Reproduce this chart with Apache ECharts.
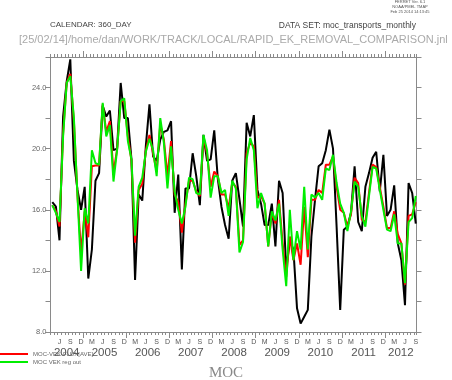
<!DOCTYPE html>
<html><head><meta charset="utf-8">
<script src="https://cdn.jsdelivr.net/npm/echarts@6/dist/echarts.min.js"></script>
<style>html,body{margin:0;padding:0;background:#fff}#c{width:452px;height:380px}</style>
</head><body><div id="c"></div>
<script>
// Monthly values, mid-month, April 2004 .. September 2012 (102 months)
const mocTotal = [16.5,16.2,14.0,22.1,24.4,25.85,19.2,17.3,16.0,17.5,11.5,13.4,17.9,18.4,22.8,22.1,22.5,19.9,20.0,24.3,22.0,22.0,19.3,11.4,17.0,16.6,20.2,22.9,19.5,19.2,20.6,21.1,21.2,21.8,15.8,18.3,12.1,17.4,17.4,19.7,18.2,16.3,20.9,19.2,19.3,21.2,18.0,16.2,15.0,14.1,17.9,18.4,16.7,14.9,21.7,20.8,22.2,17.3,16.4,15.0,15.0,16.4,13.6,17.9,17.1,12.1,14.0,13.4,9.55,8.55,9.0,9.45,14.25,16.65,18.85,19.05,19.9,21.25,20.0,14.9,9.45,14.7,14.9,15.8,18.85,15.2,14.6,17.5,18.4,19.4,19.8,17.2,19.6,15.6,16.0,17.6,13.8,12.7,9.75,17.75,17.1,15.1];
const mocVekAve = [16.3,15.9,14.9,21.0,24.3,24.9,21.8,16.9,13.2,15.9,14.2,18.85,18.9,18.9,22.9,21.1,21.8,18.4,19.95,23.1,23.1,20.8,19.2,13.85,17.3,17.7,19.9,20.9,19.7,18.5,21.6,20.6,18.2,20.5,17.0,16.5,14.5,16.4,17.9,17.9,17.2,16.9,20.7,19.7,17.5,18.5,18.2,17.0,17.0,16.1,17.8,17.5,13.7,14.0,19.7,20.4,20.15,16.8,16.9,16.4,13.6,15.8,15.1,16.65,13.8,11.6,14.25,12.7,13.8,12.4,16.2,12.9,16.65,16.65,17.3,17.1,18.95,18.95,19.5,17.5,16.0,15.8,14.9,15.7,18.1,17.75,15.35,15.2,17.1,18.95,18.8,17.5,16.2,14.8,14.8,15.9,14.4,13.8,11.1,15.6,15.7,16.5];
const mocVekRegOut = [16.3,15.8,15.2,20.8,24.3,24.75,22.0,16.9,12.0,16.1,15.1,19.9,19.05,18.95,23.0,20.8,21.55,17.85,19.9,23.1,23.3,20.5,19.3,14.3,17.5,18.1,19.8,20.65,19.9,18.2,22.0,20.4,17.4,20.15,17.2,16.0,15.1,16.2,18.1,18.0,17.1,17.0,20.9,19.9,16.8,18.2,18.2,17.1,17.3,15.6,17.9,17.4,13.2,13.9,19.3,20.7,19.9,16.1,17.1,16.4,13.6,15.9,15.3,16.4,13.4,11.0,16.0,12.7,14.6,13.4,17.5,13.4,17.0,16.8,17.1,16.65,18.7,18.6,19.6,17.75,16.4,15.8,14.6,15.9,17.85,17.5,15.6,14.9,16.9,18.8,18.7,17.3,16.0,14.7,14.6,15.7,13.8,13.8,11.2,15.2,15.45,16.9];
const seriesNames = ['MOC', 'MOC-VEK-FLUX[AVE]', 'MOC VEK reg out'];
const yTickLabels = [8, 12, 16, 20, 24];
const monthLetters = 'JFMAMJJASOND';
const years = [2004, 2005, 2006, 2007, 2008, 2009, 2010, 2011, 2012];
const startMonth = 3; // April (0-based), 2004

const X_MAX = 101.7;
const toPts = arr => arr.map((v, i) => [i + 0.5, v]);
const yearBounds = years.slice(1).map(y => (y - 2004) * 12 - startMonth);
const monthLabelPos = [];
for (let m = 0; m < mocTotal.length; m++) {
  if ((m + startMonth) % 3 === 2) monthLabelPos.push(m + 0.5);
}
const yearLabelPos = years.map(y => {
  const a = Math.max(0, (y - 2004) * 12 - startMonth);
  const b = Math.min(X_MAX, (y - 2003) * 12 - startMonth);
  return (a + b) / 2;
});

const gray = '#8a8a8a';
const font = 'Liberation Sans, Arial, sans-serif';
const baseX = {
  type: 'value', min: 0, max: X_MAX, splitLine: {show: false},
  axisLine: {show: false}, axisTick: {show: false}, axisLabel: {show: false}
};
const chart = echarts.init(document.getElementById('c'), null, {renderer: 'canvas'});
chart.setOption({
  animation: false,
  backgroundColor: '#fff',
  grid: {left: 50.5, right: 35.5, top: 57, bottom: 48},
  xAxis: [
    Object.assign({}, baseX, {position: 'bottom', interval: 1,
      axisLine: {show: true, onZero: false, lineStyle: {color: gray, width: 1}},
      axisTick: {show: true, length: 3, lineStyle: {color: gray}}}),
    Object.assign({}, baseX, {position: 'bottom',
      axisTick: {show: true, customValues: yearBounds, length: 6, lineStyle: {color: gray}},
      axisLabel: {show: true, customValues: monthLabelPos, margin: 7, fontSize: 7, color: '#555', fontFamily: font,
        formatter: v => monthLetters[(Math.floor(v) + startMonth) % 12]}}),
    Object.assign({}, baseX, {position: 'bottom',
      axisLabel: {show: true, customValues: yearLabelPos, margin: 15, fontSize: 11.5, color: '#555', fontFamily: font,
        formatter: v => String(2004 + Math.floor((v + startMonth) / 12))}}),
    Object.assign({}, baseX, {position: 'top', interval: 1,
      axisLine: {show: true, onZero: false, lineStyle: {color: gray, width: 1}},
      axisTick: {show: true, length: 3, lineStyle: {color: gray}}}),
    Object.assign({}, baseX, {position: 'top',
      axisTick: {show: true, customValues: yearBounds, length: 6, lineStyle: {color: gray}}})
  ],
  yAxis: [
    {type: 'value', min: 8, max: 26, interval: 2, position: 'left', splitLine: {show: false},
      axisLine: {show: true, onZero: false, lineStyle: {color: gray}},
      axisTick: {show: true, length: 5, lineStyle: {color: gray}},
      axisLabel: {margin: 4, fontSize: 7.5, color: '#666', fontFamily: font,
        formatter: v => yTickLabels.indexOf(v) >= 0 ? v.toFixed(1) : ''}},
    {type: 'value', min: 8, max: 26, interval: 2, position: 'right', splitLine: {show: false},
      axisLine: {show: true, onZero: false, lineStyle: {color: gray}},
      axisTick: {show: true, length: 5, lineStyle: {color: gray}},
      axisLabel: {show: false}}
  ],
  legend: {
    data: [seriesNames[1], seriesNames[2]], orient: 'vertical', left: 0, top: 351,
    icon: 'rect', itemWidth: 28, itemHeight: 2, itemGap: 2, padding: 0,
    textStyle: {fontSize: 6, color: '#666', fontFamily: font, padding: [0, 0, 0, 0]}
  },
  series: [
    {name: seriesNames[0], type: 'line', data: toPts(mocTotal), showSymbol: false, z: 2,
      lineStyle: {color: '#000', width: 2}, itemStyle: {color: '#000'}},
    {name: seriesNames[1], type: 'line', data: toPts(mocVekAve), showSymbol: false, z: 3,
      lineStyle: {color: '#ff0000', width: 2}, itemStyle: {color: '#ff0000'}},
    {name: seriesNames[2], type: 'line', data: toPts(mocVekRegOut), showSymbol: false, z: 4,
      lineStyle: {color: '#00ee00', width: 2}, itemStyle: {color: '#00ee00'}}
  ],
  graphic: [
    {type: 'text', left: 50, top: 21, style: {text: 'CALENDAR: 360_DAY', fontSize: 8, fill: '#444', fontFamily: font}},
    {type: 'text', right: 36, top: 21, style: {text: 'DATA SET: moc_transports_monthly', fontSize: 8.5, fill: '#444', fontFamily: font}},
    {type: 'text', left: 19, top: 34, style: {text: '[25/02/14]/home/dan/WORK/TRACK/LOCAL/RAPID_EK_REMOVAL_COMPARISON.jnl', fontSize: 11, fill: '#aaa', fontFamily: font}},
    {type: 'text', x: 410, y: 0, style: {text: 'FERRET Ver. 6.1\nNOAA/PMEL TMAP\nFeb 25 2014 14:13:45', fontSize: 4, lineHeight: 4.6, align: 'center', verticalAlign: 'top', fill: '#555', fontFamily: font}},
    {type: 'text', left: 'center', top: 366, style: {text: 'MOC', fontSize: 15, fill: '#888', fontFamily: 'Liberation Serif, Times New Roman, serif'}}
  ]
});
</script></body></html>
